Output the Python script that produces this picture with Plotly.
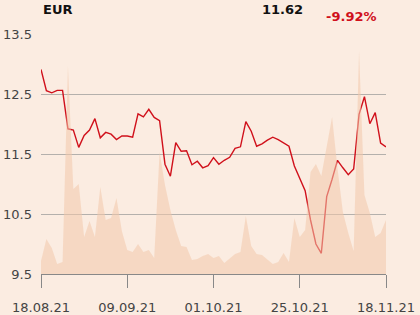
import plotly.graph_objects as go

prices = [12.91, 12.555, 12.52, 12.56, 12.56, 11.92, 11.90, 11.61, 11.81, 11.90,
          12.09, 11.77, 11.86, 11.83, 11.74, 11.80, 11.80, 11.78, 12.17, 12.12,
          12.245, 12.11, 12.055, 11.33, 11.13, 11.69, 11.545, 11.555, 11.32, 11.38,
          11.27, 11.305, 11.44, 11.33, 11.395, 11.445, 11.595, 11.62, 12.04, 11.88,
          11.63, 11.67, 11.73, 11.78, 11.74, 11.68, 11.63, 11.30, 11.095, 10.89,
          10.40, 10.00, 9.845, 10.79, 11.08, 11.395, 11.27, 11.155, 11.25, 12.16,
          12.455, 12.005, 12.19, 11.68, 11.62]

volumes = [13, 35, 26, 10, 12, 208, 85, 90, 37, 53,
           37, 87, 54, 56, 76, 43, 24, 22, 30, 22,
           24, 16, 122, 89, 64, 44, 28, 27, 14, 15,
           18, 20, 16, 18, 11, 16, 20, 22, 58, 28,
           20, 19, 14, 10, 12, 21, 12, 56, 37, 44,
           102, 110, 98, 129, 157, 106, 62, 41, 23, 223,
           79, 61, 37, 41, 54]

tick_pos = [0, 16, 32, 48, 64]
tick_labels = ["18.08.21", "09.09.21", "01.10.21", "25.10.21", "18.11.21"]
y_ticks = [9.5, 10.5, 11.5, 12.5, 13.5]

currency = "EUR"
last_price = "11.62"
change = "-9.92%"

x = list(range(len(prices)))

BG = "#FBECE1"
fig = go.Figure()
fig.add_trace(go.Scatter(x=x, y=volumes, yaxis="y2", mode="lines",
                         line=dict(width=0), fill="tozeroy",
                         fillcolor="rgba(243,200,171,0.55)", hoverinfo="skip"))
fig.add_trace(go.Scatter(x=x, y=prices, mode="lines",
                         line=dict(color="#D0101B", width=1.4)))

font = dict(family="DejaVu Sans", size=13, color="#444444")
fig.update_layout(
    width=420, height=315,
    margin=dict(l=41, r=34, t=34, b=41, autoexpand=False),
    paper_bgcolor=BG, plot_bgcolor=BG,
    showlegend=False,
    font=font,
    xaxis=dict(range=[0, 64], tickvals=tick_pos, ticktext=tick_labels,
               showgrid=False, zeroline=False, showline=True,
               linecolor="#888888", linewidth=1, automargin=False,
               ticks="outside", ticklen=13, tickcolor="#888888", tickwidth=1,
               ticklabelstandoff=8, tickfont=font),
    yaxis=dict(range=[9.5, 13.5], tickvals=y_ticks,
               ticktext=[f"{v:.1f}" for v in y_ticks],
               showgrid=True, gridcolor="#B4B0AC", gridwidth=1,
               zeroline=False, showline=False, ticks="", automargin=False,
               ticklabelstandoff=8, tickfont=font),
    yaxis2=dict(range=[0, 240], overlaying="y", side="right",
                visible=False, showgrid=False, automargin=False),
    annotations=[
        dict(text=f"<b>{currency}</b>", xref="paper", yref="paper",
             x=0.0, y=1.1, xanchor="left", yanchor="middle", showarrow=False,
             font=dict(family="DejaVu Sans", size=13, color="#111111")),
        dict(text=f"<b>{last_price}</b>", xref="paper", yref="paper",
             x=0.634, y=1.104, xanchor="left", yanchor="middle", showarrow=False,
             font=dict(family="DejaVu Sans", size=13, color="#111111")),
        dict(text=f"<b>{change}</b>", xref="paper", yref="paper",
             x=0.820, y=1.073, xanchor="left", yanchor="middle", showarrow=False,
             font=dict(family="DejaVu Sans", size=13, color="#D0101B")),
    ],
)
fig.write_html("out.html")
